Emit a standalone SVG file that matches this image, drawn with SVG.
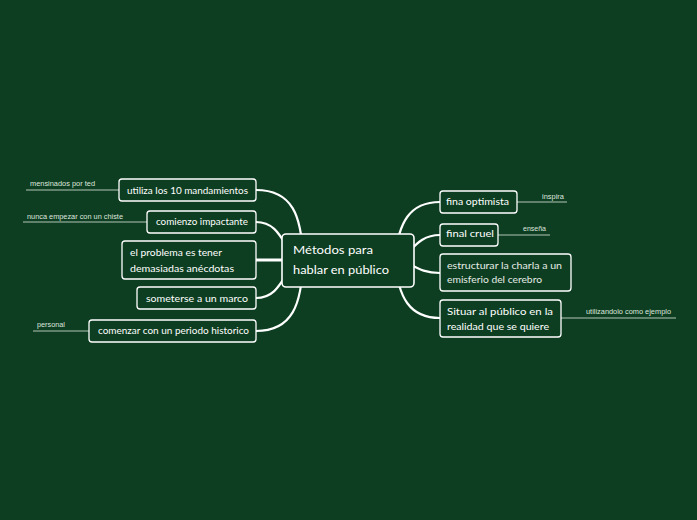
<svg xmlns="http://www.w3.org/2000/svg" width="697" height="520" viewBox="0 0 697 520">
<style>
.bg{fill:#0d3e21}
.box{fill:#0d3e21;stroke:#ffffff;stroke-width:1.3}
.t{font-family:Lato,"Liberation Sans",sans-serif;font-size:10px;fill:#ffffff}
.tc{font-family:Lato,"Liberation Sans",sans-serif;font-size:12px;fill:#ffffff}
.lab{font-family:"Liberation Sans",Arial,sans-serif;font-size:7.4px;fill:#dfe6df}
.con{fill:none;stroke:#ffffff;stroke-width:2.2;stroke-linecap:round}
.ul{stroke:#7d9986;stroke-width:1.3}
</style>
<rect class="bg" x="0" y="0" width="697" height="520"/>
<g id="connectors">
<path class="con" d="M256,190 C292,190 302,215 303,260"/>
<path class="con" d="M256,222 C278,222 282,242 296,260"/>
<path class="con" d="M256,260 L305,260" style="stroke-width:3"/>
<path class="con" d="M256,298 C278,298 282,278 296,260"/>
<path class="con" d="M256,331 C292,331 302,305 303,260"/>
<path class="con" d="M440,202 C410,202 398,222 395,260"/>
<path class="con" d="M440,235 C420,235 414,248 400,260"/>
<path class="con" d="M440,273 C420,273 414,265 400,260"/>
<path class="con" d="M440,318 C410,318 398,298 395,260"/>
</g>
<g id="central">
<rect class="box" x="282" y="234" width="132" height="53" rx="4" style="stroke-width:1.6"/>
<text class="tc" x="293" y="254" textLength="80" lengthAdjust="spacingAndGlyphs">Métodos para</text>
<text class="tc" x="293" y="274" textLength="96" lengthAdjust="spacingAndGlyphs">hablar en público</text>
</g>
<g id="n-utiliza">
<line class="ul" x1="26" y1="190" x2="119" y2="190"/>
<text class="lab" x="30" y="186" textLength="65" lengthAdjust="spacingAndGlyphs">mensinados por ted</text>
<rect class="box" x="119" y="179" width="137" height="22" rx="3"/>
<text class="t" x="127" y="194" textLength="121" lengthAdjust="spacingAndGlyphs">utiliza los 10 mandamientos</text>
</g>
<g id="n-comienzo">
<line class="ul" x1="23" y1="222" x2="147" y2="222"/>
<text class="lab" x="27" y="219" textLength="96" lengthAdjust="spacingAndGlyphs">nunca empezar con un chiste</text>
<rect class="box" x="147" y="211" width="109" height="22" rx="3"/>
<text class="t" x="156" y="225" textLength="92" lengthAdjust="spacingAndGlyphs">comienzo impactante</text>
</g>
<g id="n-problema">
<rect class="box" x="122" y="241" width="134" height="38" rx="3"/>
<text class="t" x="130" y="256" textLength="92" lengthAdjust="spacingAndGlyphs">el problema es tener</text>
<text class="t" x="130" y="272" textLength="104" lengthAdjust="spacingAndGlyphs">demasiadas anécdotas</text>
</g>
<g id="n-sometarse">
<rect class="box" x="137" y="287" width="119" height="22" rx="3"/>
<text class="t" x="146" y="302" textLength="102" lengthAdjust="spacingAndGlyphs">someterse a un marco</text>
</g>
<g id="n-comenzar">
<line class="ul" x1="33" y1="331" x2="89" y2="331"/>
<text class="lab" x="37" y="327" textLength="28" lengthAdjust="spacingAndGlyphs">personal</text>
<rect class="box" x="89" y="320" width="167" height="22" rx="3"/>
<text class="t" x="98" y="334" textLength="151" lengthAdjust="spacingAndGlyphs">comenzar con un periodo historico</text>
</g>
<g id="n-fina">
<line class="ul" x1="517" y1="202" x2="567" y2="202"/>
<text class="lab" x="542" y="199" textLength="22" lengthAdjust="spacingAndGlyphs">inspira</text>
<rect class="box" x="440" y="191" width="77" height="22" rx="3"/>
<text class="t" x="446" y="205" textLength="63" lengthAdjust="spacingAndGlyphs">fina optimista</text>
</g>
<g id="n-final">
<line class="ul" x1="498" y1="235" x2="550" y2="235"/>
<text class="lab" x="523" y="231" textLength="23" lengthAdjust="spacingAndGlyphs">enseña</text>
<rect class="box" x="440" y="224" width="58" height="22" rx="3"/>
<text class="t" x="446" y="237" textLength="48" lengthAdjust="spacingAndGlyphs">final cruel</text>
</g>
<g id="n-estructurar">
<rect class="box" x="440" y="254" width="131" height="37" rx="3"/>
<text class="t" x="447" y="269" textLength="115" lengthAdjust="spacingAndGlyphs" style="fill:#e6ece6">estructurar la charla a un</text>
<text class="t" x="447" y="283" textLength="95" lengthAdjust="spacingAndGlyphs" style="fill:#e6ece6">emisferio del cerebro</text>
</g>
<g id="n-situar">
<line class="ul" x1="561" y1="318" x2="676" y2="318"/>
<text class="lab" x="586" y="314" textLength="85" lengthAdjust="spacingAndGlyphs">utilizandolo como ejemplo</text>
<rect class="box" x="440" y="300" width="121" height="37" rx="3"/>
<text class="t" x="447" y="315" textLength="106" lengthAdjust="spacingAndGlyphs">Situar al público en la</text>
<text class="t" x="447" y="330" textLength="102" lengthAdjust="spacingAndGlyphs">realidad que se quiere</text>
</g>
</svg>
